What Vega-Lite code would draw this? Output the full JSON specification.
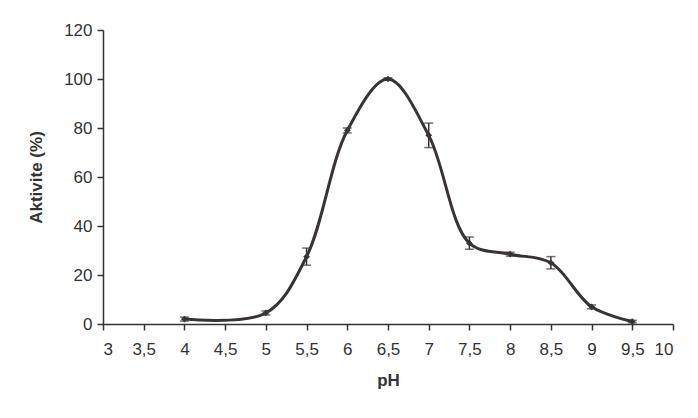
{
  "$schema": "https://vega.github.io/schema/vega-lite/v6.json",
  "width": 570,
  "height": 294,
  "autosize": "none",
  "padding": {"left": 103, "top": 30, "right": 25, "bottom": 94},
  "background": "white",
  "config": {
    "view": {"stroke": null},
    "font": "Liberation Sans",
    "axis": {
      "grid": false,
      "domainColor": "#333333",
      "domainWidth": 1.5,
      "tickColor": "#333333",
      "tickWidth": 1.5,
      "tickSize": 6,
      "labelFont": "Liberation Sans",
      "labelFontSize": 17,
      "labelColor": "#333333",
      "titleFont": "Liberation Sans",
      "titleFontSize": 17,
      "titleFontWeight": "bold",
      "titleColor": "#333333"
    }
  },
  "data": {
    "values": [
      {"ph": 4, "act": 2, "err": 0.8},
      {"ph": 5, "act": 4.5, "err": 0.8},
      {"ph": 5.5, "act": 27.5, "err": 3.5},
      {"ph": 6, "act": 79, "err": 1},
      {"ph": 6.5, "act": 100, "err": 0.5},
      {"ph": 7, "act": 77, "err": 5},
      {"ph": 7.5, "act": 33, "err": 2.5},
      {"ph": 8, "act": 28.5, "err": 0.8},
      {"ph": 8.5, "act": 25, "err": 2.5},
      {"ph": 9, "act": 7, "err": 0.8},
      {"ph": 9.5, "act": 1, "err": 0.5}
    ]
  },
  "layer": [
    {
      "mark": {"type": "line", "interpolate": "catmull-rom", "color": "#3a3333", "strokeWidth": 3},
      "encoding": {
        "x": {
          "field": "ph", "type": "quantitative", "title": "pH",
          "scale": {"domain": [3, 10], "nice": false, "zero": false},
          "axis": {
            "values": [3, 3.5, 4, 4.5, 5, 5.5, 6, 6.5, 7, 7.5, 8, 8.5, 9, 9.5, 10],
            "labelExpr": "replace(toString(datum.value), '.', ',')",
            "labelPadding": 11,
            "titlePadding": 15
          }
        },
        "y": {
          "field": "act", "type": "quantitative", "title": "Aktivite (%)",
          "scale": {"domain": [0, 120], "nice": false},
          "axis": {
            "values": [0, 20, 40, 60, 80, 100, 120],
            "labelPadding": 5,
            "titlePadding": 18
          }
        }
      }
    },
    {
      "mark": {"type": "errorbar", "ticks": {"size": 9, "thickness": 1.5, "color": "#3a3333"}, "rule": {"strokeWidth": 1.5, "color": "#3a3333"}},
      "encoding": {
        "x": {"field": "ph", "type": "quantitative", "title": "pH"},
        "y": {"field": "act", "type": "quantitative", "title": "Aktivite (%)"},
        "yError": {"field": "err"}
      }
    },
    {
      "mark": {"type": "point", "shape": "diamond", "filled": true, "size": 45, "color": "#3a3333", "opacity": 1},
      "encoding": {
        "x": {"field": "ph", "type": "quantitative", "title": "pH"},
        "y": {"field": "act", "type": "quantitative", "title": "Aktivite (%)"}
      }
    }
  ]
}
